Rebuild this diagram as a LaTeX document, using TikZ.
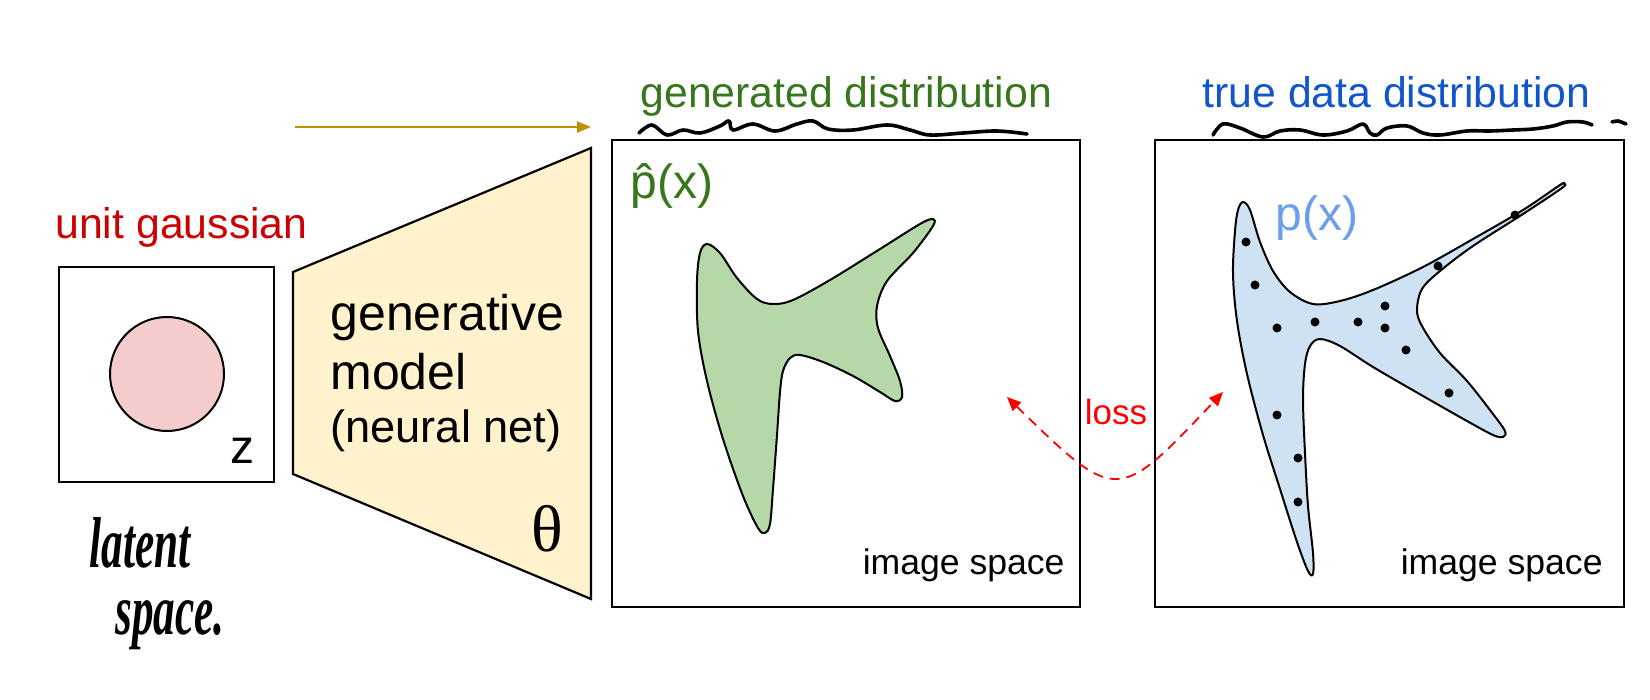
\documentclass[tikz,border=0pt]{standalone}
\usepackage{fontspec}
\setmainfont{Liberation Sans}
\newfontfamily\serifhand{Liberation Serif}
\usepackage{tikz}
\usetikzlibrary{arrows.meta, positioning}

\definecolor{gaussred}{HTML}{CC0000}
\definecolor{gengreen}{HTML}{38761D}
\definecolor{truetext}{HTML}{1155CC}
\definecolor{pxblue}{HTML}{6D9EEB}
\definecolor{modelfill}{HTML}{FFF2CC}
\definecolor{circlefill}{HTML}{F4CCCC}
\definecolor{greenfill}{HTML}{B6D7A8}
\definecolor{bluefill}{HTML}{CFE2F3}
\definecolor{arrowgold}{HTML}{BF9000}

\begin{document}
\begin{tikzpicture}[
    x=0.5pt, y=-0.5pt,
    panel/.style={draw, rectangle, line width=1.1pt, inner sep=0pt},
    title/.style={font=\fontsize{21.4}{25}\selectfont, inner sep=0pt},
    spacelabel/.style={font=\fontsize{17.8}{21}\selectfont, inner sep=0pt},
    hand/.style={font=\serifhand\bfseries\itshape\fontsize{24}{28}\selectfont, inner sep=0pt},
    blob/.style={draw, line width=1pt, line join=round},
    sample/.style={circle, fill=black, inner sep=0pt, minimum size=4.5pt},
    squiggle/.style={line width=1.8pt, line cap=round, line join=round},
    arrow/.style={line width=1pt, arrowgold, -{Triangle[length=7pt, width=5.5pt]}},
    lossarrow/.style={line width=0.9pt, red, dash pattern=on 5pt off 3.5pt,
      {Triangle[length=7pt, width=6pt]}-{Triangle[length=7pt, width=6pt]}}
]
\useasboundingbox (0,0) rectangle (1650,700);

% latent space
\node[panel, minimum size=107.5pt] (latent) at (166.5,374.5) {};
\node[circle, draw, line width=1pt, fill=circlefill, minimum size=57pt, inner sep=0pt] (gauss) at (167,374) {};
\node[font=\fontsize{24}{28}\selectfont, inner sep=0pt] (zlabel) at (242,451) {z};
\node[title, text=gaussred, anchor=base west] (gausstitle) at (55,239) {unit gaussian};
\node[hand] (latentword) at (140,543) {\scalebox{0.9}[1.5]{latent}};
\node[hand] (spaceword) at (170,625) {\scalebox{0.9}[1.5]{space.}};

% generative model
\draw[line width=1.1pt, fill=modelfill] (293,272) -- (591,148) -- (591,599) -- (293,474) -- cycle;
\node[anchor=base west, inner sep=0pt, font=\fontsize{25}{30}\selectfont] (gen) at (330,331) {generative};
\node[anchor=base west, inner sep=0pt, font=\fontsize{25}{30}\selectfont] (mod) at (330,390) {model};
\node[anchor=base west, inner sep=0pt, font=\fontsize{22.6}{27}\selectfont] (net) at (330,442) {(neural net)};
\node[inner sep=0pt, font=\serifhand\fontsize{33}{36}\selectfont] (theta) at (547.5,528.5) {θ};

\coordinate (arrowstart) at (295,127);
\coordinate (arrowend) at (591,127);
\draw[arrow] (arrowstart) -- (arrowend);

% generated distribution
\node[panel, minimum width=234pt, minimum height=233.5pt] (genbox) at (846,373.5) {};
\node[title, text=gengreen, anchor=base west] (gentitle) at (640,108) {generated distribution};
\draw[squiggle] plot[smooth, tension=0.6] coordinates {
  (639,133) (652,125) (667,135) (683,130) (700,133) (720,126) (729,121) (733,130)
  (753,124) (775,131) (797,124) (813,121) (828,129) (853,130) (887,125) (910,130)
  (930,135) (963,133) (997,131) (1027,134)};
\node[font=\fontsize{24}{28}\selectfont, text=gengreen, anchor=base west, inner sep=0pt] (phat) at (630,199) {\^{p}(x)};
\draw[blob, fill=greenfill] plot[smooth cycle, tension=0.55] coordinates {
  (707,244) (720,253) (737,278) (757,299) (773,304) (793,300) (830,280) (880,249)
  (920,224) (933,219) (933,226) (913,253) (887,281) (877,306) (878,328) (890,356)
  (900,381) (902,397) (895,401) (880,392) (853,376) (823,362) (800,355) (790,358)
  (783,371) (780,392) (777,435) (773,489) (770,524) (765,533) (758,528) (743,496)
  (723,439) (707,381) (698,331) (697,281) (700,253)};
\node[spacelabel, anchor=base east] (genspace) at (1065,574) {image space};

% true data distribution
\node[panel, minimum width=234.5pt, minimum height=233.5pt] (truebox) at (1389.5,373.5) {};
\node[title, text=truetext, anchor=base west] (truetitle) at (1202,108) {true data distribution};
\draw[squiggle] plot[smooth, tension=0.6] coordinates {
  (1213,135) (1223,124) (1240,128) (1263,137) (1280,131) (1300,130) (1323,135)
  (1347,131) (1363,124) (1370,133) (1377,135) (1387,128) (1407,126) (1423,133)
  (1440,135) (1467,131) (1490,131) (1513,130) (1533,129) (1553,126) (1567,122)
  (1583,122) (1592,125)};
\draw[squiggle] plot[smooth, tension=0.5] coordinates {(1612,122) (1618,121) (1626,124)};
\draw[blob, fill=bluefill] plot[smooth cycle, tension=0.55] coordinates {
  (1243,202) (1250,210) (1260,242) (1273,271) (1290,292) (1313,304) (1340,301)
  (1373,290) (1423,267) (1473,239) (1523,210) (1560,185) (1564,184) (1562,188)
  (1523,214) (1473,246) (1440,271) (1422,289) (1417,310) (1422,326) (1440,353)
  (1467,381) (1493,414) (1505,431) (1503,437) (1493,435) (1467,421) (1423,396)
  (1373,367) (1340,346) (1320,339) (1310,346) (1305,364) (1303,399) (1305,453)
  (1308,506) (1313,553) (1313,574) (1308,571) (1297,542) (1280,489) (1263,435)
  (1247,374) (1237,321) (1233,274) (1235,231) (1238,210)};
\foreach \sx/\sy [count=\i] in {1246/242, 1255/285, 1277/328, 1315/322, 1358/322,
    1385/306, 1385/328, 1406/350, 1438/266, 1515/215, 1277/415, 1298/458,
    1298/502, 1449/393}
  \node[sample] (sample\i) at (\sx,\sy) {};
\node[font=\fontsize{24}{28}\selectfont, text=pxblue, anchor=base west, inner sep=0pt] (px) at (1275,231) {p(x)};
\node[spacelabel, anchor=base east] (truespace) at (1603,574) {image space};

% loss
\coordinate (lossleft) at (1007,397);
\coordinate (lossright) at (1223,392);
\coordinate (lossbend) at (1117,504);
\draw[lossarrow] (lossleft) .. controls (lossbend) .. (lossright);
\node[font=\fontsize{17.5}{21}\selectfont, text=red, inner sep=0pt] (loss) at (1116,412) {loss};
\end{tikzpicture}
\end{document}
